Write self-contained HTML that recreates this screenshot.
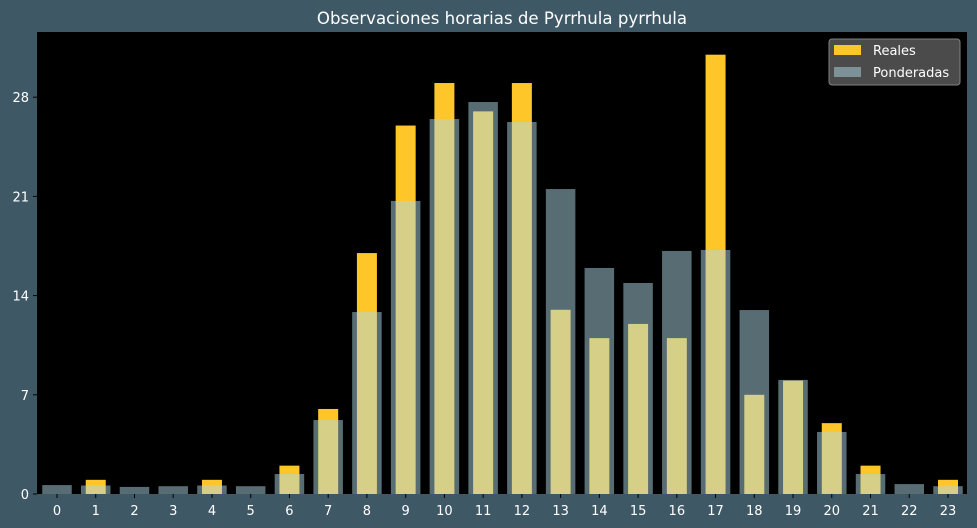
<!DOCTYPE html>
<html><head><meta charset="utf-8"><style>
html,body{margin:0;padding:0;background:#3f5866;}
svg{display:block;font-family:"DejaVu Sans","Liberation Sans",sans-serif;}
</style></head><body>
<svg id="chart" width="977" height="528">
<rect width="977" height="528" fill="#3f5866"/>
<text x="502" y="24" text-anchor="middle" fill="#ffffff" font-size="16.6">Observaciones horarias de Pyrrhula pyrrhula</text>
<rect x="37" y="32" width="930" height="462" fill="#000000"/>
<g id="bars"></g>
<g id="axes"></g>
<g>
<rect x="829" y="39" width="131" height="46" rx="3" fill="#505050" stroke="#888" stroke-width="1" opacity="0.95"/>
<rect x="834" y="45" width="27" height="10" fill="#ffc629"/>
<text x="873" y="55" fill="#ffffff" font-size="13">Reales</text>
<rect x="834" y="67" width="27" height="10" fill="#add8e6" fill-opacity="0.5"/>
<text x="873" y="77" fill="#ffffff" font-size="13">Ponderadas</text>
</g>
</svg>
<script>
const hours = [0,1,2,3,4,5,6,7,8,9,10,11,12,13,14,15,16,17,18,19,20,21,22,23];
const reales = [0,1,0,0,1,0,2,6,17,26,29,27,29,13,11,12,11,31,7,8,5,2,0,1];
const ponderadas = [0.63,0.6,0.5,0.55,0.6,0.55,1.41,5.22,12.84,20.68,26.46,27.66,26.25,21.52,15.95,14.89,17.15,17.22,12.98,8.05,4.38,1.41,0.7,0.55];
const yTicks = [0,7,14,21,28];

const NS = "http://www.w3.org/2000/svg";
const x = h => 57 + h * (891/23);
const y = v => 494 - v * (99.2/7);
const bars = document.getElementById('bars');
const axes = document.getElementById('axes');

hours.forEach((h,i) => {
  const w = 20;
  const r = document.createElementNS(NS,'rect');
  r.setAttribute('x', x(h) - w/2);
  r.setAttribute('y', y(reales[i]));
  r.setAttribute('width', w);
  r.setAttribute('height', 494 - y(reales[i]));
  r.setAttribute('fill', '#ffc629');
  
  
  bars.appendChild(r);
});
hours.forEach((h,i) => {
  const w = 29.5;
  const r = document.createElementNS(NS,'rect');
  r.setAttribute('x', x(h) - w/2);
  r.setAttribute('y', y(ponderadas[i]));
  r.setAttribute('width', w);
  r.setAttribute('height', 494 - y(ponderadas[i]));
  r.setAttribute('fill', '#add8e6');
  r.setAttribute('fill-opacity', '0.5');
  
  
  bars.appendChild(r);
});
hours.forEach(h => {
  const tk = document.createElementNS(NS,'line');
  tk.setAttribute('x1', x(h)); tk.setAttribute('x2', x(h));
  tk.setAttribute('y1', 494); tk.setAttribute('y2', 498);
  tk.setAttribute('stroke', '#000');
  
  
  axes.appendChild(tk);
  const t = document.createElementNS(NS,'text');
  t.setAttribute('x', x(h));
  t.setAttribute('y', 515);
  t.setAttribute('text-anchor','middle');
  t.setAttribute('fill','#ffffff');
  t.setAttribute('font-size','13');
  t.textContent = h;
  
  
  axes.appendChild(t);
});
yTicks.forEach(v => {
  const tk = document.createElementNS(NS,'line');
  tk.setAttribute('x1', 33); tk.setAttribute('x2', 37);
  tk.setAttribute('y1', y(v)); tk.setAttribute('y2', y(v));
  tk.setAttribute('stroke', '#000');
  
  
  axes.appendChild(tk);
  const t = document.createElementNS(NS,'text');
  t.setAttribute('x', 29);
  t.setAttribute('y', y(v) + 5);
  t.setAttribute('text-anchor','end');
  t.setAttribute('fill','#ffffff');
  t.setAttribute('font-size','13');
  t.textContent = v;
  
  
  axes.appendChild(t);
});
</script>
</body></html>
